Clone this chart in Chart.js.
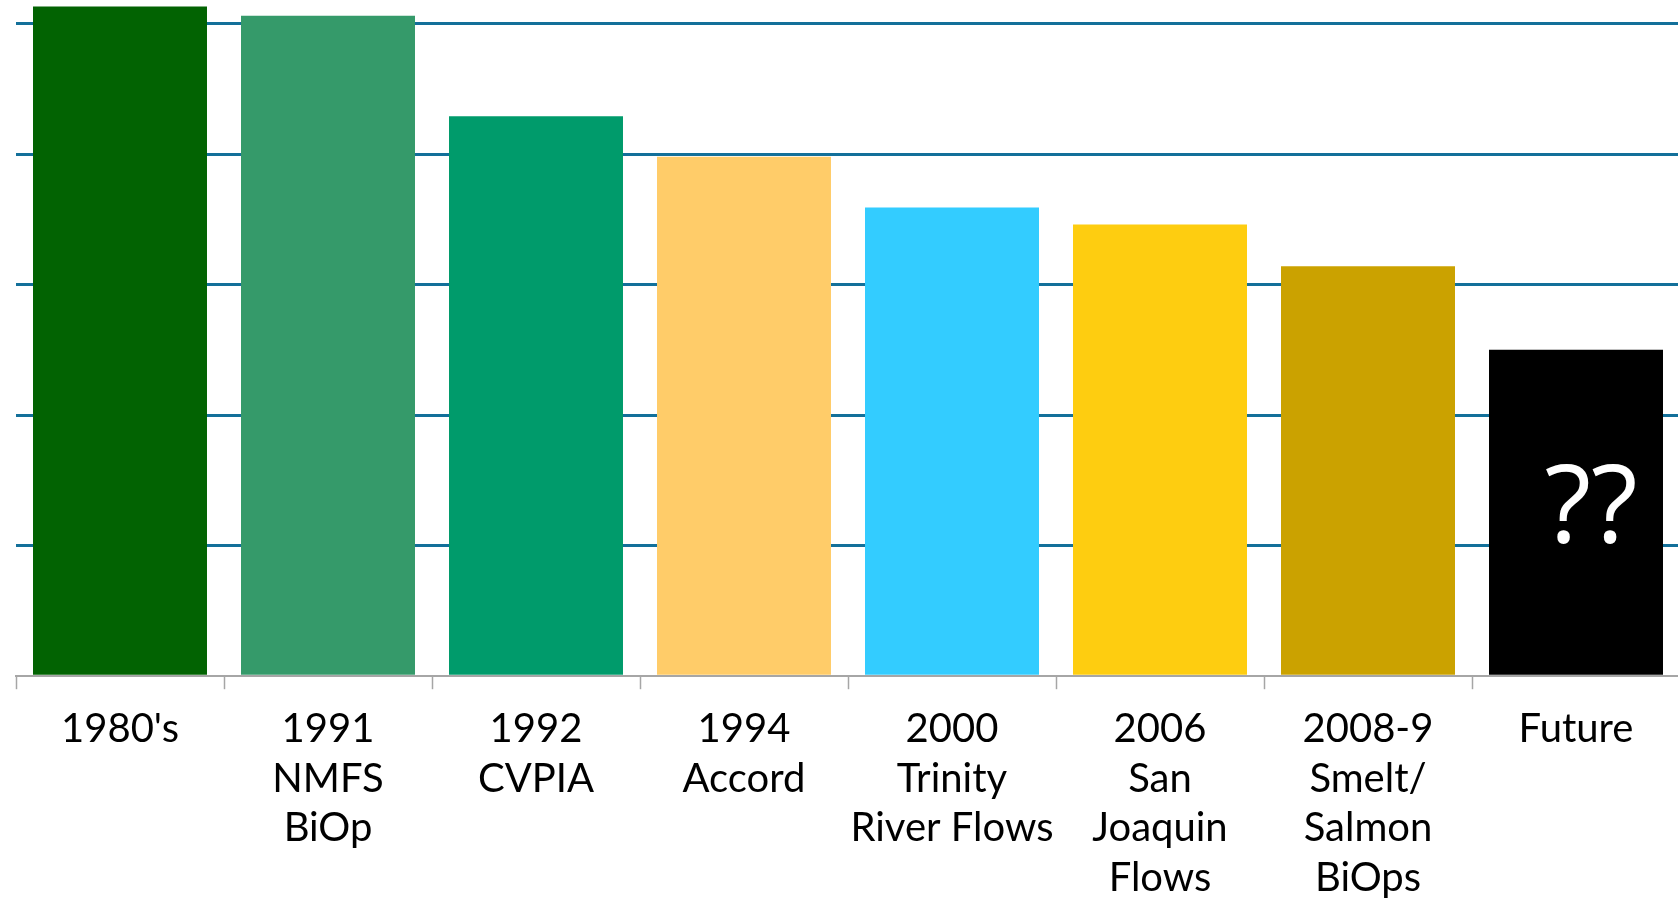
<!DOCTYPE html>
<html>
<head>
<meta charset="utf-8">
<script src="https://cdn.jsdelivr.net/npm/chart.js@4/dist/chart.umd.min.js"></script>
<style>
    html, body { margin: 0; padding: 0; background: #ffffff; overflow: hidden; }
    #wrap { width: 1680px; height: 918px; position: relative; }
</style>
</head>
<body>
<div id="wrap"><canvas id="flowChart"></canvas></div>
<script>
// Categories (multi-line tick labels)
const categories = [
    ["1980's"],
    ["1991", "NMFS", "BiOp"],
    ["1992", "CVPIA"],
    ["1994", "Accord"],
    ["2000", "Trinity", "River Flows"],
    ["2006", "San", "Joaquin", "Flows"],
    ["2008-9", "Smelt/", "Salmon", "BiOps"],
    ["Future"]
];

// Bar heights (grid step = 1)
const values = [5.13, 5.06, 4.29, 3.98, 3.59, 3.46, 3.14, 2.50];

const barColors = ["#026302", "#359a6a", "#009b6b", "#ffcc69", "#33ccff", "#fecd10", "#cba200", "#000000"];

// Text written inside a bar
const barNotes = ["", "", "", "", "", "", "", "??"];

const gridBlue = "#13709a";
const axisGray = "#a6a6a6";

// Plugin to write the notes inside the bars
const barNotesPlugin = {
    id: "barNotes",
    afterDatasetsDraw(chart) {
        const ctx = chart.ctx;
        const meta = chart.getDatasetMeta(0);
        ctx.save();
        ctx.fillStyle = "#ffffff";
        ctx.font = "108px 'Open Sans'";
        ctx.textAlign = "center";
        ctx.textBaseline = "middle";
        meta.data.forEach((bar, i) => {
            if (!barNotes[i]) return;
            const y = bar.y + (bar.base - bar.y) * 0.5;
            ctx.fillText(barNotes[i], bar.x + 15, y);
        });
        ctx.restore();
    }
};

const ctx = document.getElementById("flowChart").getContext("2d");

new Chart(ctx, {
    type: "bar",
    data: {
        labels: categories,
        datasets: [{
            data: values,
            backgroundColor: barColors,
            borderWidth: 0,
            barPercentage: 0.8365,
            categoryPercentage: 1
        }]
    },
    options: {
        responsive: true,
        maintainAspectRatio: false,
        animation: false,
        layout: {
            padding: { left: 16, right: 0, top: 0, bottom: 0 }
        },
        plugins: {
            legend: { display: false },
            tooltip: { enabled: false }
        },
        scales: {
            x: {
                grid: {
                    offset: true,
                    drawOnChartArea: false,
                    drawTicks: true,
                    tickLength: 13,
                    tickColor: axisGray,
                    tickWidth: 1.5
                },
                border: { color: axisGray, width: 2 },
                ticks: {
                    color: "#000000",
                    padding: 15,
                    maxRotation: 0,
                    autoSkip: false,
                    font: { family: "Lato", size: 40, lineHeight: 1.2425 }
                }
            },
            y: {
                min: 0,
                max: 5.18,
                grid: {
                    drawTicks: false,
                    lineWidth: 3,
                    color: c => (c.tick && c.tick.value === 0) ? "rgba(0,0,0,0)" : gridBlue
                },
                border: { display: false },
                ticks: {
                    display: false,
                    stepSize: 1,
                    includeBounds: false
                }
            }
        }
    },
    plugins: [barNotesPlugin]
});
</script>
</body>
</html>
